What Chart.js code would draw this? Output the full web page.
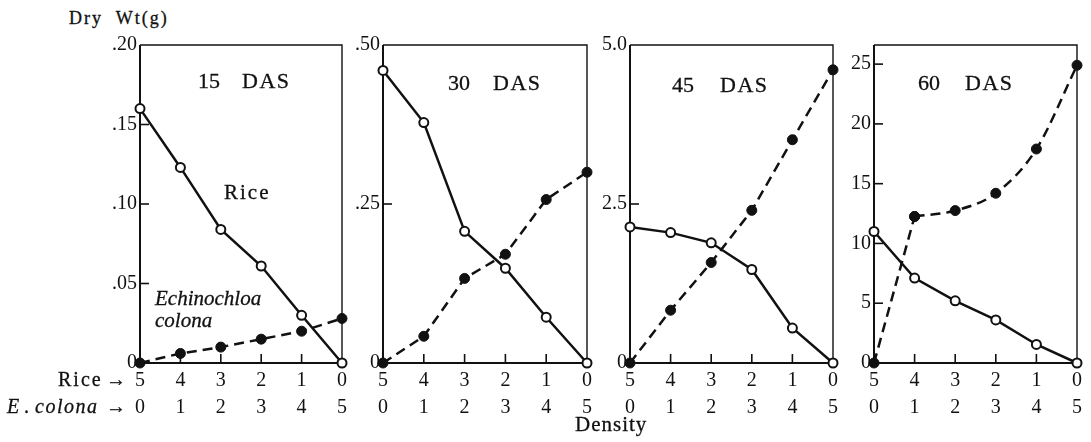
<!DOCTYPE html>
<html><head><meta charset="utf-8">
<script src="https://cdn.jsdelivr.net/npm/chart.js@4.4.1/dist/chart.umd.min.js"></script>
<style>
html,body{margin:0;padding:0;background:#fff;width:1091px;height:442px;overflow:hidden;position:relative;font-family:"Liberation Serif","DejaVu Serif",serif;color:#111}
canvas{position:absolute}
.t{position:absolute;white-space:pre;line-height:1;color:#111;font-family:"Liberation Serif","DejaVu Serif",serif;-webkit-text-stroke:0.3px #111}
</style></head><body>
<script>
// ---- data ----
const riceDensity = ['5','4','3','2','1','0'];
const colonaDensity = ['0','1','2','3','4','5'];
const panelDays = ['15','30','45','60'];

const rice15   = [0.160, 0.123, 0.084, 0.061, 0.030, 0];
const colona15 = [0, 0.006, 0.010, 0.015, 0.020, 0.028];
const rice30   = [0.460, 0.378, 0.207, 0.149, 0.072, 0];
const colona30 = [0, 0.042, 0.133, 0.171, 0.257, 0.300];
const rice45   = [2.14, 2.05, 1.89, 1.47, 0.55, 0];
const colona45 = [0, 0.83, 1.58, 2.40, 3.51, 4.61];
const rice60   = [11.0, 7.1, 5.2, 3.6, 1.55, 0];
const colona60 = [0, 12.25, 12.75, 14.2, 17.9, 24.9];

const yTicks15 = [0, 0.05, 0.10, 0.15, 0.20];  const yLabels15 = ['0', '.05', '.10', '.15', '.20'];
const yTicks30 = [0, 0.25, 0.50];              const yLabels30 = ['0', '.25', '.50'];
const yTicks45 = [0, 2.5, 5.0];                const yLabels45 = ['0', '2.5', '5.0'];
const yTicks60 = [0, 5, 10, 15, 20, 25];       const yLabels60 = ['0', '5', '10', '15', '20', '25'];
const yMax = [0.20, 0.50, 5.0, 26.6];

// ---- layout ----
const plotLeft  = [140, 383, 630, 874];
const plotRight = [342, 587, 833, 1077];
const plotTop = 44, plotBottom = 363;
const YAXIS_W = 50, XAXIS_H = 60, CANVAS_TOP = 30, RIGHT_PAD = 10;

const INK = '#111';
const framePlugin = {
  id: 'frame',
  beforeDatasetsDraw(chart) {
    const {ctx, chartArea: a, scales: {x, y}} = chart;
    ctx.save();
    ctx.strokeStyle = INK;
    ctx.lineWidth = 2;
    ctx.beginPath();
    ctx.moveTo(a.left, a.top); ctx.lineTo(a.left, a.bottom); ctx.lineTo(a.right, a.bottom);
    ctx.stroke();
    ctx.lineWidth = 1.4;
    ctx.beginPath();
    ctx.moveTo(a.left, a.top); ctx.lineTo(a.right, a.top); ctx.lineTo(a.right, a.bottom);
    ctx.stroke();
    ctx.lineWidth = 1.6;
    y.ticks.forEach(t => {
      const py = y.getPixelForValue(t.value);
      if (py > a.top + 2 && py < a.bottom - 2) {
        ctx.beginPath(); ctx.moveTo(a.left, py); ctx.lineTo(a.left + 9, py); ctx.stroke();
      }
    });
    x.ticks.forEach((t, i) => {
      if (i > 0 && i < x.ticks.length - 1) {
        const px = x.getPixelForTick(i);
        ctx.beginPath(); ctx.moveTo(px, a.bottom); ctx.lineTo(px, a.bottom - 9); ctx.stroke();
      }
    });
    ctx.restore();
  }
};

function riceSet(data) {
  return {data, borderColor: INK, borderWidth: 2.5, pointRadius: 4.5,
          pointBackgroundColor: '#fff', pointBorderColor: INK, pointBorderWidth: 2,
          tension: 0, clip: false};
}
function colonaSet(data, curved) {
  return {data, borderColor: INK, borderWidth: 2.5, borderDash: [10, 6], pointRadius: 5,
          pointBackgroundColor: INK, pointBorderColor: INK, pointBorderWidth: 1,
          cubicInterpolationMode: curved ? 'monotone' : 'default', tension: 0,
          spanGaps: false, clip: false};
}

function makePanel(i, rice, colona, yTicks, yLabels, curveFrom) {
  const cv = document.createElement('canvas');
  const w = YAXIS_W + (plotRight[i] - plotLeft[i]) + RIGHT_PAD;
  const h = (plotBottom - CANVAS_TOP) + XAXIS_H;
  cv.width = w; cv.height = h;
  cv.style.left = (plotLeft[i] - YAXIS_W) + 'px';
  cv.style.top = CANVAS_TOP + 'px';
  cv.style.width = w + 'px'; cv.style.height = h + 'px';
  document.body.appendChild(cv);
  let datasets;
  if (curveFrom == null) {
    datasets = [riceSet(rice), colonaSet(colona, false)];
  } else {
    // straight dashed part up to curveFrom, smooth dashed curve from there on
    const straight = colona.map((v, k) => (k <= curveFrom ? v : null));
    const curve = colona.map((v, k) => (k >= curveFrom ? v : null));
    datasets = [riceSet(rice), colonaSet(straight, false), colonaSet(curve, true)];
  }
  new Chart(cv, {
    type: 'line',
    data: {labels: riceDensity.map((r, k) => [r, colonaDensity[k]]), datasets},
    options: {
      responsive: false, animation: false, events: [],
      layout: {padding: {top: plotTop - CANVAS_TOP, right: RIGHT_PAD, left: 0, bottom: 0}},
      plugins: {legend: {display: false}, tooltip: {enabled: false}},
      scales: {
        x: {type: 'category', grid: {display: false, drawTicks: false}, border: {display: false},
            ticks: {padding: 4, color: INK, maxRotation: 0, autoSkip: false,
                    font: {family: 'Liberation Serif', size: 20, lineHeight: 1.35}},
            afterFit(s) { s.height = XAXIS_H; }},
        y: {min: 0, max: yMax[i], grid: {display: false, drawTicks: false}, border: {display: false},
            ticks: {padding: 3, color: INK, font: {family: 'Liberation Serif', size: 20},
                    callback: (v, idx) => yLabels[idx]},
            afterBuildTicks(s) { s.ticks = yTicks.map(v => ({value: v})); },
            afterFit(s) { s.width = YAXIS_W; }}
      }
    },
    plugins: [framePlugin]
  });
}

makePanel(0, rice15, colona15, yTicks15, yLabels15, null);
makePanel(1, rice30, colona30, yTicks30, yLabels30, null);
makePanel(2, rice45, colona45, yTicks45, yLabels45, null);
makePanel(3, rice60, colona60, yTicks60, yLabels60, 1);

function label(text, x, baseline, size, opts = {}) {
  const d = document.createElement('div');
  d.className = 't';
  d.textContent = text;
  d.style.left = x + 'px';
  d.style.top = (baseline - 0.8375 * size) + 'px';
  d.style.fontSize = size + 'px';
  if (opts.italic) d.style.fontStyle = 'italic';
  if (opts.ls != null) d.style.letterSpacing = opts.ls + 'px';
  document.body.appendChild(d);
}

label('Dry  Wt(g)', 69, 24, 18, {ls: 2});
// panel titles
const dayX = [198, 448, 672, 918];
const dasX = [242, 493, 720, 965];
const titleBase = [88, 90, 92, 90];
panelDays.forEach((d, i) => {
  label(d, dayX[i], titleBase[i], 22, {ls: 0});
  label('DAS', dasX[i], titleBase[i], 22, {ls: 1.5});
});
label('Rice', 224, 200, 21, {ls: 2});
label('Echinochloa', 155, 306, 21, {italic: true});
label('colona', 155, 328, 21, {italic: true});
// row labels
label('Rice', 58, 386, 20, {ls: 2});
label('\u2192', 106, 386, 20);
label('E', 7, 413, 20, {italic: true});
label('.', 24, 413, 20);
label('colona', 35, 413, 20, {italic: true, ls: 1.5});
label('\u2192', 106, 413, 20);
label('Density', 575, 432, 21, {ls: 1});
</script>
</body></html>
